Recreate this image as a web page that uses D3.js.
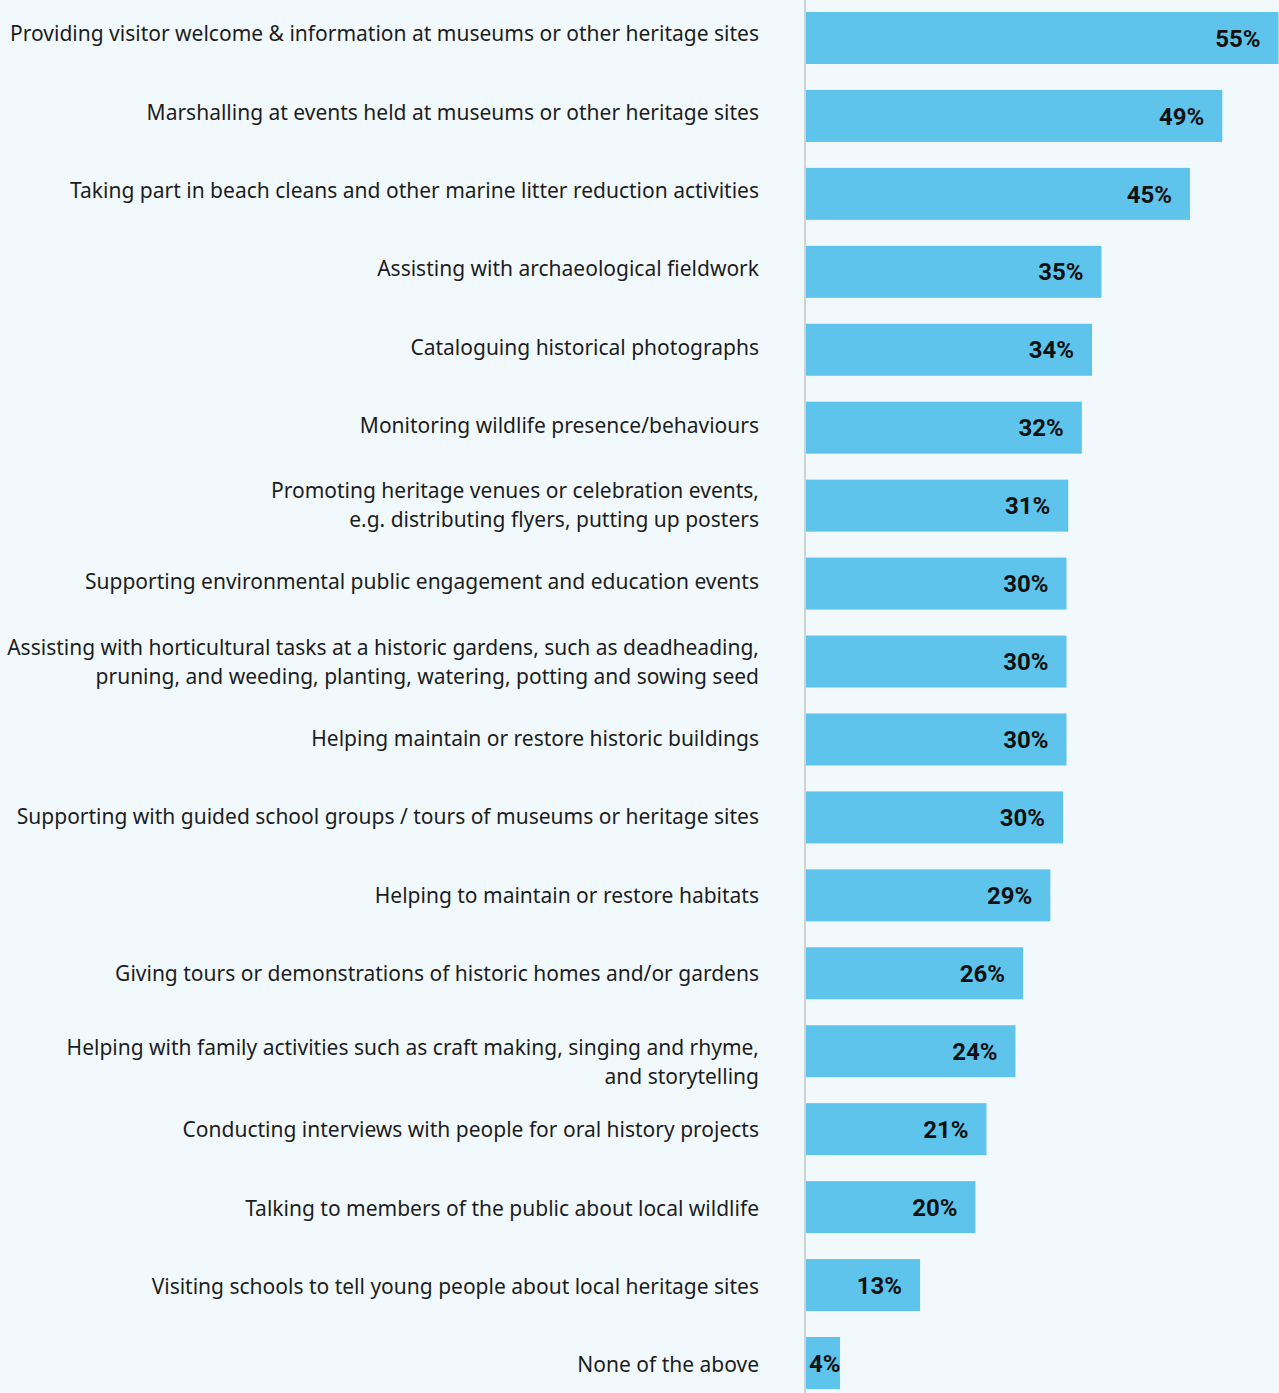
<!DOCTYPE html>
<html><head><meta charset="utf-8">
<script src="https://cdn.jsdelivr.net/npm/d3@7"></script>
<style>
html,body{margin:0;padding:0;background:#f2f9fd;}
svg{display:block;}
</style></head>
<body>
<svg id="chart" width="1279" height="1393"></svg>
<script>
const categories = [
  "Providing visitor welcome & information at museums or other heritage sites",
  "Marshalling at events held at museums or other heritage sites",
  "Taking part in beach cleans and other marine litter reduction activities",
  "Assisting with archaeological fieldwork",
  "Cataloguing historical photographs",
  "Monitoring wildlife presence/behaviours",
  "Promoting heritage venues or celebration events,\ne.g. distributing flyers, putting up posters",
  "Supporting environmental public engagement and education events",
  "Assisting with horticultural tasks at a historic gardens, such as deadheading,\npruning, and weeding, planting, watering, potting and sowing seed",
  "Helping maintain or restore historic buildings",
  "Supporting with guided school groups / tours of museums or heritage sites",
  "Helping to maintain or restore habitats",
  "Giving tours or demonstrations of  historic homes and/or gardens",
  "Helping with family activities such as craft making, singing and rhyme,\nand storytelling",
  "Conducting interviews with people for oral history projects",
  "Talking to members of the public about local wildlife",
  "Visiting schools to tell young people about local heritage sites",
  "None of the above"
];
const values = [55.5, 48.9, 45.1, 34.7, 33.6, 32.4, 30.8, 30.6, 30.6, 30.6, 30.2, 28.7, 25.5, 24.6, 21.2, 19.9, 13.4, 4.0];
const valueLabels = ["55%","49%","45%","35%","34%","32%","31%","30%","30%","30%","30%","29%","26%","24%","21%","20%","13%","4%"];

const svg = d3.select("#chart");
const W = 1279, H = 1393;
const x0 = 806;
const x = d3.scaleLinear().domain([0, 55.5]).range([x0, 1278.5]);
const n = categories.length;
const step = (1363 - 38) / (n - 1);
const y = d3.scaleBand().domain(d3.range(n))
  .range([38 - step/2, 1363 + step/2])
  .paddingInner(1 - 52/step).paddingOuter((1 - 52/step)/2);
// label grid (slightly different spacing than bars)
const yl = d3.scalePoint().domain(d3.range(n)).range([34, 1365]);

svg.append("rect").attr("width", W).attr("height", H).attr("fill", "#f2f9fd");

svg.append("line").attr("x1", 805).attr("x2", 805).attr("y1", 0).attr("y2", H)
  .attr("stroke", "#cfd3d6").attr("stroke-width", 2);

const g = svg.append("g");
g.selectAll("rect.bar").data(values).join("rect")
  .attr("class", "bar")
  .attr("x", x(0))
  .attr("y", (d, i) => y(i))
  .attr("width", d => x(d) - x(0))
  .attr("height", y.bandwidth())
  .attr("fill", "#5ec4ec");

g.selectAll("text.val").data(values).join("text")
  .attr("class", "val")
  .attr("y", (d, i) => y(i) + y.bandwidth()/2)
  .attr("dy", "0.36em")
  .attr("text-anchor", "end")
  .attr("font-family", "Roboto, 'Noto Sans', sans-serif")
  .attr("font-weight", "700")
  .attr("font-size", 24)
  .attr("fill", "#111")
  .text((d, i) => valueLabels[i])
  .each(function(d) {
    const w = this.getComputedTextLength();
    d3.select(this).attr("x", Math.max(x(d) - 18, x(0) + 3 + w));
  });

const topAligned = new Set([13]);
const lab = g.selectAll("text.cat").data(categories).join("text")
  .attr("class", "cat")
  .attr("text-anchor", "end")
  .attr("font-family", "'Noto Sans', sans-serif")
  .attr("font-size", 21)
  .attr("fill", "#1d1d1d");
lab.each(function(d, i) {
  const lines = d.split("\n");
  const c = yl(i);
  const lh = 29;
  let start;
  if (lines.length === 1) start = c;
  else if (topAligned.has(i)) start = c - 4;
  else start = c - 13;
  const t = d3.select(this);
  lines.forEach((ln, k) => {
    t.append("tspan").attr("x", 759).attr("y", start + k*lh).attr("dy", "0.35em").text(ln);
  });
});
</script>
</body></html>
